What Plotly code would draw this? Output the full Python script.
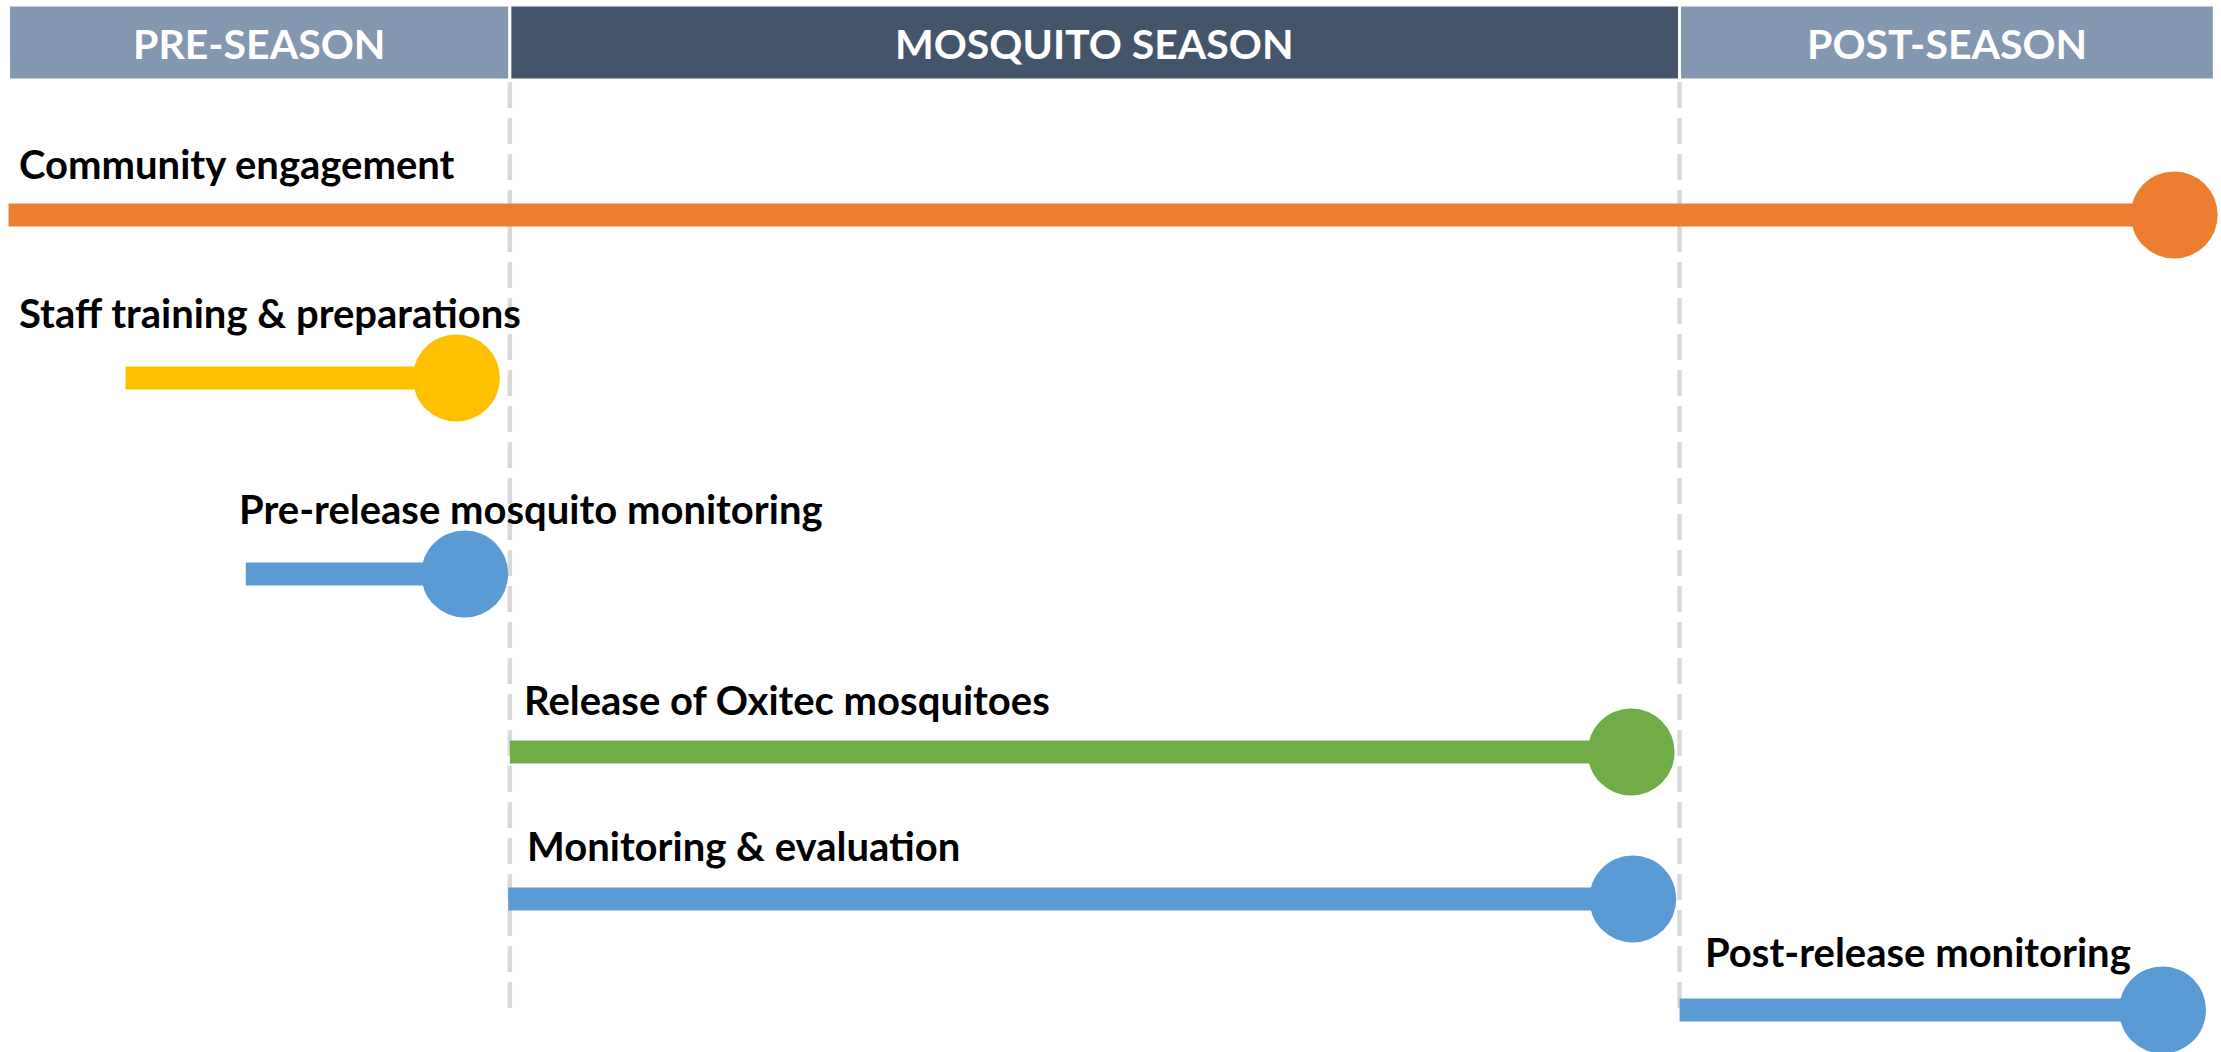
import plotly.graph_objects as go

# ---- data (timeline units, ~months from start of pre-season) ----
phases = ["PRE-SEASON", "MOSQUITO SEASON", "POST-SEASON"]
phase_start = [0.0, 3.0, 10.0]
phase_end = [3.0, 10.0, 13.2]

activities = [
    "Community engagement",
    "Staff training & preparations",
    "Pre-release mosquito monitoring",
    "Release of Oxitec mosquitoes",
    "Monitoring & evaluation",
    "Post-release monitoring",
]
act_start = [0.0, 0.70, 1.42, 3.0, 2.99, 10.0]
act_end = [12.96, 2.68, 2.73, 9.71, 9.72, 12.89]

# ---- styles / layout ----
act_colors = ["#ED7D31", "#FFC000", "#5B9BD5", "#70AD47", "#5B9BD5", "#5B9BD5"]
phase_colors = ["#8497B0", "#44546A", "#8497B0"]
row_y = [215, 378, 574, 752, 899, 1010]
label_y = [164, 313, 509, 700, 846, 952]
label_x = [0.05, 0.05, 1.37, 3.07, 3.09, 10.14]

W, H = 2221, 1052
FONT = "Lato"

fig = go.Figure()

# activity bars
fig.add_trace(go.Bar(
    orientation="h",
    y=row_y,
    base=act_start,
    x=[e - s for s, e in zip(act_start, act_end)],
    width=23,
    marker=dict(color=act_colors, line=dict(width=0)),
    hoverinfo="skip",
    showlegend=False,
))

# end circles
fig.add_trace(go.Scatter(
    x=act_end,
    y=row_y,
    mode="markers",
    marker=dict(size=87, color=act_colors, line=dict(width=0)),
    hoverinfo="skip",
    showlegend=False,
    cliponaxis=False,
))

shapes = []
annotations = []

# header blocks
for name, s, e, c in zip(phases, phase_start, phase_end, phase_colors):
    shapes.append(dict(type="rect", xref="x", yref="y", x0=s, x1=e, y0=5, y1=80,
                       fillcolor=c, line=dict(color="white", width=3), layer="above"))
    annotations.append(dict(x=(s + e) / 2, y=43, xref="x", yref="y",
                            text=f"<b>{name}</b>", showarrow=False,
                            font=dict(family=FONT, size=41, color="white"),
                            xanchor="center", yanchor="middle"))

# dashed phase separators
for b in phase_end[:-1]:
    shapes.append(dict(type="line", xref="x", yref="y", x0=b, x1=b, y0=82, y1=1013,
                       line=dict(color="#D9D9D9", width=4.5, dash="26px,10px"), layer="below"))

# activity labels
for txt, lx, ly in zip(activities, label_x, label_y):
    annotations.append(dict(x=lx, y=ly, xref="x", yref="y", text=f"<b>{txt}</b>",
                            showarrow=False, xanchor="left", yanchor="middle",
                            font=dict(family=FONT, size=40, color="black")))

fig.update_layout(
    width=W, height=H,
    margin=dict(l=0, r=0, t=0, b=0),
    paper_bgcolor="white", plot_bgcolor="white",
    xaxis=dict(range=[-0.051, 13.24], visible=False, fixedrange=True),
    yaxis=dict(range=[H, 0], visible=False, fixedrange=True),
    shapes=shapes,
    annotations=annotations,
    showlegend=False,
)

fig.write_html("out.html",
               config={"displayModeBar": False},
               post_script="document.body.style.margin='0';document.body.style.overflow='hidden';")
